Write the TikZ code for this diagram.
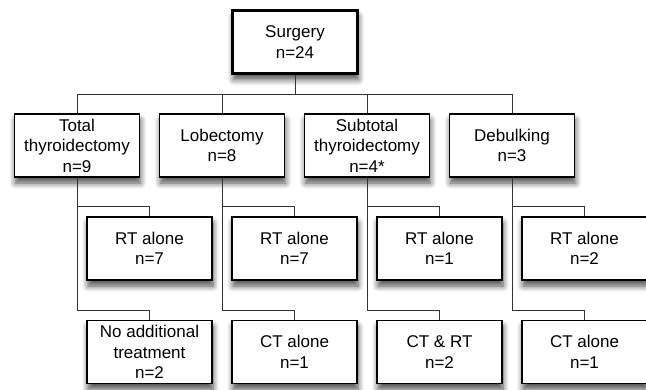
\documentclass[tikz,border=0pt]{standalone}
\usepackage{fontspec}
\setmainfont{Liberation Sans}
\usetikzlibrary{positioning,calc,shadows.blur}

\begin{document}
\begin{tikzpicture}[x=1pt, y=1pt, node distance=145pt,
  box/.style = {draw=black, line width=1.4pt, fill=white, minimum width=125pt, minimum height=63pt,
    inner sep=0pt, align=center, font=\fontsize{17}{20.5}\selectfont,
    blur shadow={shadow xshift=1pt, shadow yshift=-6pt, shadow blur radius=6pt, shadow blur steps=8, shadow opacity=70}},
  root/.style = {box, line width=2.6pt},
  link/.style = {draw=black!80, line width=1pt}]
\useasboundingbox (0,0) rectangle (646,-389);
\node[root] (sur) at (295,-42) {Surgery\\n=24};
\node[box] (tot) at (77,-145.5) {Total\\thyroidectomy\\n=9};
\node[box] (lob) [right of=tot] {Lobectomy\\n=8};
\node[box] (sub) [right of=lob] {Subtotal\\thyroidectomy\\n=4*};
\node[box] (deb) [right of=sub] {Debulking\\n=3};
\node[box] (rt1) [below of=tot, node distance=103pt, xshift=72.5pt] {RT alone\\n=7};
\node[box] (rt2) [below of=lob, node distance=103pt, xshift=72.5pt] {RT alone\\n=7};
\node[box] (rt3) [below of=sub, node distance=103pt, xshift=72.5pt] {RT alone\\n=1};
\node[box] (rt4) [below of=deb, node distance=103pt, xshift=72.5pt] {RT alone\\n=2};
\node[box] (no1) [below of=rt1, node distance=103.5pt] {No additional\\treatment\\n=2};
\node[box] (ct2) [below of=rt2, node distance=103.5pt] {CT alone\\n=1};
\node[box] (ctrt3) [below of=rt3, node distance=103.5pt] {CT \& RT\\n=2};
\node[box] (ct4) [below of=rt4, node distance=103.5pt] {CT alone\\n=1};
% connectors
\coordinate (bus) at (295,-94.7);
\draw[link] (sur.south) -- (bus);
\foreach \p in {tot,lob,sub,deb}
  \draw[link] (bus) -| (\p.north);
\foreach \p/\a/\b in {tot/rt1/no1, lob/rt2/ct2, sub/rt3/ctrt3, deb/rt4/ct4} {
  \draw[link] (\p.south) |- ($(\a.north)+(0,10)$) -- (\a.north);
  \draw[link] (\p.south) |- ($(\b.north)+(0,9.5)$) -- (\b.north);
}
\end{tikzpicture}
\end{document}
